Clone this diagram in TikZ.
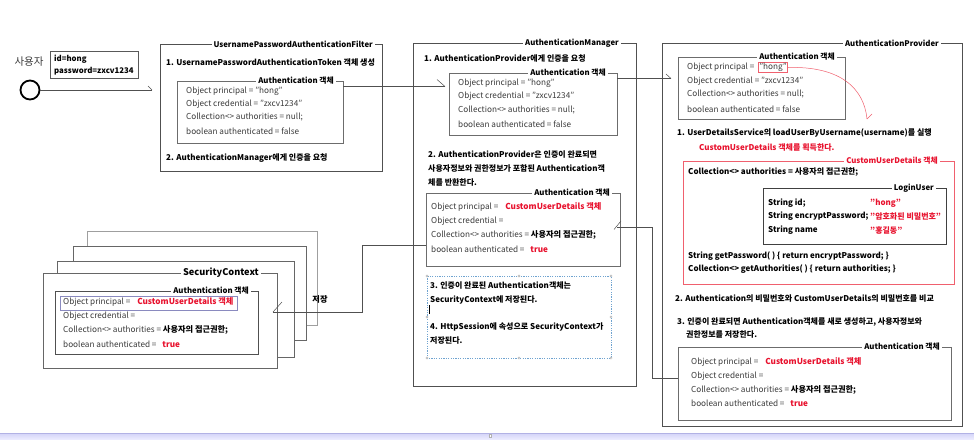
\documentclass[tikz,border=0pt]{standalone}
\usepackage{fontspec}
\setmainfont{Noto Sans CJK KR}
\usetikzlibrary{shadows}
\definecolor{redt}{HTML}{E8112D}
\definecolor{txt}{HTML}{3A3A3A}
\definecolor{bord}{HTML}{505050}
\definecolor{redb}{HTML}{F0606E}
\definecolor{selb}{HTML}{6FA3D0}
\definecolor{hil}{HTML}{8A8ABF}
\tikzset{
 outerbox/.style={draw=bord, line width=0.7pt, fill=white, anchor=north west, inner sep=0pt,
   drop shadow={shadow xshift=1pt,shadow yshift=-1pt,opacity=0.3}},
 innerbox/.style={draw=gray!85!black, line width=0.6pt, fill=white, anchor=north west, inner sep=0pt},
 ttl/.style={font=\bfseries\fontsize{7.8}{9}\selectfont, fill=white, inner xsep=2pt, inner ysep=0pt, anchor=east},
 ln/.style={font=\fontsize{8.2}{9}\selectfont, text=txt, anchor=west, inner sep=0pt},
 bln/.style={font=\bfseries\fontsize{8}{9}\selectfont, anchor=west, inner sep=0pt},
 rln/.style={bln, text=redt},
 conn/.style={draw=bord, line width=0.6pt},
 tickln/.style={draw=bord, line width=0.5pt},
 handle/.style={draw=gray!70, fill=white, line width=0.3pt, circle, inner sep=0pt, minimum size=2.4pt}
}
\newcommand{\rd}[1]{{\bfseries\color{redt}#1}}
\newcommand{\bk}[1]{{\bfseries\color{black}#1}}
\begin{document}
\begin{tikzpicture}[x=1pt,y=-1pt]
\useasboundingbox (0,0) rectangle (974,439);
\fill[white] (0,0) rectangle (974,439);

% ---------- user ----------
\node[font=\fontsize{10.5}{11}\selectfont, text=txt, inner sep=0pt] (userlbl) at (29,62) {사용자};
\node[circle, draw=black, line width=1.8pt, minimum size=19pt, inner sep=0pt] (user) at (30,90) {};
\node[draw=gray!70!black, line width=0.5pt, fill=white, anchor=north west, minimum width=88pt, minimum height=27pt,
  drop shadow={shadow xshift=1pt,shadow yshift=-1pt,opacity=0.3}] (idbox) at (50,51) {};
\node[bln, font=\bfseries\fontsize{7.8}{9}\selectfont] (idtxt) at (54,59) {id=hong};
\node[bln, font=\bfseries\fontsize{7.8}{9}\selectfont] (pwtxt) at (54,71) {password=zxcv1234};
\coordinate (userend) at (152,90);
\draw[conn] (user.east) -- (userend);
\draw[tickln] (148,86) -- (userend);

% ---------- UsernamePasswordAuthenticationFilter ----------
\node[outerbox, minimum width=222pt, minimum height=127pt] (filt) at (160,44) {};
\node[ttl] (filtt) at (375,44) {UsernamePasswordAuthenticationFilter};
\node[bln] (f1) at (166,63) {1. UsernamePasswordAuthenticationToken 객체 생성};
\node[innerbox, minimum width=166pt, minimum height=62pt] (fa) at (177,81) {};
\node[ttl] (fat) at (336,81) {Authentication 객체};
\node[ln] (fa1) at (186,91) {Object principal = "hong"};
\node[ln] (fa2) at (186,104) {Object credential = "zxcv1234"};
\node[ln] (fa3) at (186,117.5) {Collection<> authorities = null;};
\node[ln] (fa4) at (186,131) {boolean authenticated = false};
\node[bln] (f2) at (166,158) {2. AuthenticationManager에게 인증을 요청};

% ---------- AuthenticationManager ----------
\node[outerbox, minimum width=223pt, minimum height=343pt] (mgr) at (413,43) {};
\node[ttl] (mgrt) at (621,43) {AuthenticationManager};
\node[bln] (m1) at (424,58) {1. AuthenticationProvider에게 인증을 요청};
\node[innerbox, minimum width=168pt, minimum height=62pt] (ma) at (449,73) {};
\node[ttl] (mat) at (608,73) {Authentication 객체};
\node[ln] (ma1) at (458,83) {Object principal = "hong"};
\node[ln] (ma2) at (458,96.5) {Object credential = "zxcv1234"};
\node[ln] (ma3) at (458,110) {Collection<> authorities = null;};
\node[ln] (ma4) at (458,124) {boolean authenticated = false};
\node[bln] (m2a) at (428,155) {2. AuthenticationProvider은 인증이 완료되면};
\node[bln] (m2b) at (428,168.5) {사용자정보와 권한정보가 포함된 Authentication객};
\node[bln] (m2c) at (428,182) {체를 반환한다.};
\node[innerbox, minimum width=194pt, minimum height=73pt] (mb) at (426,193) {};
\node[ttl] (mbt) at (612,193) {Authentication 객체};
\node[ln] (mb1) at (431,207) {Object principal = \hspace{5pt}\rd{CustomUserDetails 객체}};
\node[ln] (mb2) at (431,221) {Object credential =};
\node[ln] (mb3) at (431,235) {Collection<> authorities = \bk{사용자의 접근권한;}};
\node[ln] (mb4) at (431,249) {boolean authenticated = \hspace{4pt}\rd{true}};
% selection frame
\draw[selb, line width=0.5pt, dash pattern=on 1.2pt off 1.2pt] (427,276) rectangle (611,358);
\foreach \hx/\hy in {427/276,519/276,611/276,427/317,611/317,427/358,519/358,611/358}
  \node[handle] at (\hx,\hy) {};
\node[bln] (m3a) at (430,286) {3. 인증이 완료된 Authentication객체는};
\node[bln] (m3b) at (430,299.5) {SecurityContext에 저장된다.};
\draw[black, line width=0.5pt] (429,305) -- (429,314);
\node[bln] (m4a) at (430,327) {4. HttpSession에 속성으로 SecurityContext가};
\node[bln] (m4b) at (430,341) {저장된다.};

% ---------- AuthenticationProvider ----------
\node[outerbox, minimum width=300pt, minimum height=383pt] (prov) at (662,43) {};
\node[ttl] (provt) at (941,43) {AuthenticationProvider};
\node[innerbox, minimum width=167pt, minimum height=62pt] (pa) at (678,57) {};
\node[ttl] (pat) at (837,57) {Authentication 객체};
\node[ln] (pa1) at (687,67.5) {Object principal =};
\node[ln, draw=redb, line width=0.6pt, inner xsep=1pt, inner ysep=0.8pt] (hong) at (758,67.5) {"hong"};
\node[ln] (pa2) at (687,81) {Object credential = "zxcv1234"};
\node[ln] (pa3) at (687,94.5) {Collection<> authorities = null;};
\node[ln] (pa4) at (687,109) {boolean authenticated = false};
\coordinate (curveend) at (867,119);
\draw[redb, line width=0.5pt] (hong.east) .. controls (840,66) and (864,88) .. (curveend);
\draw[redb, line width=0.5pt] (curveend) -- (872,114);
\node[bln] (p1) at (677,133) {1. UserDetailsService의 loadUserByUsername(username)를 실행};
\node[rln] (p1b) at (699,147) {CustomUserDetails 객체를 획득한다.};
\node[draw=redb, line width=0.7pt, fill=white, anchor=north west, inner sep=0pt, minimum width=271pt, minimum height=123pt] (cud) at (683,161) {};
\node[ttl, text=redt] (cudt) at (940,161) {CustomUserDetails 객체};
\node[bln] (c1) at (688,172) {Collection<> authorities = 사용자의 접근권한;};
\node[draw=black!75, line width=0.8pt, fill=white, anchor=north west, inner sep=0pt, minimum width=183pt, minimum height=56pt] (lu) at (763,188) {};
\node[ttl] (lut) at (936,188) {LoginUser};
\node[bln] (lu1) at (768,203) {String id;};
\node[rln] (lu1v) at (870,203) {"hong"};
\node[bln] (lu2) at (768,216.5) {String encryptPassword;};
\node[rln] (lu2v) at (870,216.5) {"암호화된 비밀번호"};
\node[bln] (lu3) at (768,230) {String name};
\node[rln] (lu3v) at (870,230) {"홍길동"};
\node[bln] (c2) at (688,256) {String getPassword( ) \{ return encryptPassword; \}};
\node[bln] (c3) at (688,269.5) {Collection<> getAuthorities( ) \{ return authorities; \}};
\node[bln] (p2) at (675,299) {2. Authentication의 비밀번호와 CustomUserDetails의 비밀번호를 비교};
\node[bln] (p3a) at (677,322) {3. 인증이 완료되면 Authentication객체를 새로 생성하고, 사용자정보와};
\node[bln] (p3b) at (686,334.5) {권한정보를 저장한다.};
\node[innerbox, minimum width=273pt, minimum height=73pt] (pb) at (678,347) {};
\node[ttl] (pbt) at (942,347) {Authentication 객체};
\node[ln] (pb1) at (691,362) {Object principal = \hspace{5pt}\rd{CustomUserDetails 객체}};
\node[ln] (pb2) at (691,376) {Object credential =};
\node[ln] (pb3) at (691,390) {Collection<> authorities = \bk{사용자의 접근권한;}};
\node[ln] (pb4) at (691,403.5) {boolean authenticated = \hspace{4pt}\rd{true}};

% ---------- SecurityContext stack ----------
\node[outerbox, draw=gray!75, minimum width=230pt, minimum height=94pt] (sc3) at (87,231) {};
\node[outerbox, draw=gray!80!black, minimum width=233pt, minimum height=94pt] (sc2) at (73,246) {};
\node[outerbox, draw=gray!80!black, minimum width=237pt, minimum height=96pt] (sc1) at (57,261) {};
\node[outerbox, draw=gray!80!black, minimum width=234pt, minimum height=95pt] (sc) at (43,273) {};
\node[ttl, font=\bfseries\fontsize{9.2}{10}\selectfont] (sct) at (261,273) {SecurityContext};
\node[innerbox, draw=bord, minimum width=203pt, minimum height=63pt] (sa) at (55,291) {};
\node[ttl] (sat) at (251,291) {Authentication 객체};
\node[draw=hil, line width=0.6pt, anchor=north west, inner sep=0pt, minimum width=177pt, minimum height=14pt] (hl) at (60,296) {};
\node[ln] (sa1) at (63,302.5) {Object principal = \hspace{5pt}\rd{CustomUserDetails 객체}};
\node[ln] (sa2) at (63,316) {Object credential =};
\node[ln] (sa3) at (63,330) {Collection<> authorities = \bk{사용자의 접근권한;}};
\node[ln] (sa4) at (63,344) {boolean authenticated = \hspace{4pt}\rd{true}};

% ---------- connectors ----------
\coordinate (c1s) at (343,86.5);
\coordinate (c1e) at (445,86.5);
\draw[conn] (c1s) -- (c1e);
\draw[tickln] (437,79.5) -- (c1e);
\coordinate (c2s) at (617,78.5);
\coordinate (c2e) at (671,78.5);
\draw[conn] (c2s) -- (c2e);
\draw[tickln] (666,74) -- (c2e);
\coordinate (c3e) at (617,227);
\draw[conn] (pb.west |- 0,378) -- (652,378) -- (652,227) -- (c3e);
\draw[tickln] (614,229.5) -- (621,221);
\coordinate (c4e) at (273,312);
\draw[conn] (mb.west |- 0,245) -- (362,245) -- (362,312) -- (c4e);
\draw[tickln] (c4e) -- (282,302);
\node[bln, font=\bfseries\fontsize{8.2}{9}\selectfont, anchor=center] (save) at (320,299) {저장};

% ---------- bottom scroll bar ----------
\shade[top color=gray!30!blue!20, bottom color=white!92!blue] (0,433) rectangle (974,439);
\draw[gray!50!blue!40, line width=0.4pt] (0,433) -- (974,433);
\node[draw=gray!60, fill=white, inner sep=0pt, minimum width=2pt, minimum height=3pt] (sbh) at (490,435.5) {};
\end{tikzpicture}
\end{document}
